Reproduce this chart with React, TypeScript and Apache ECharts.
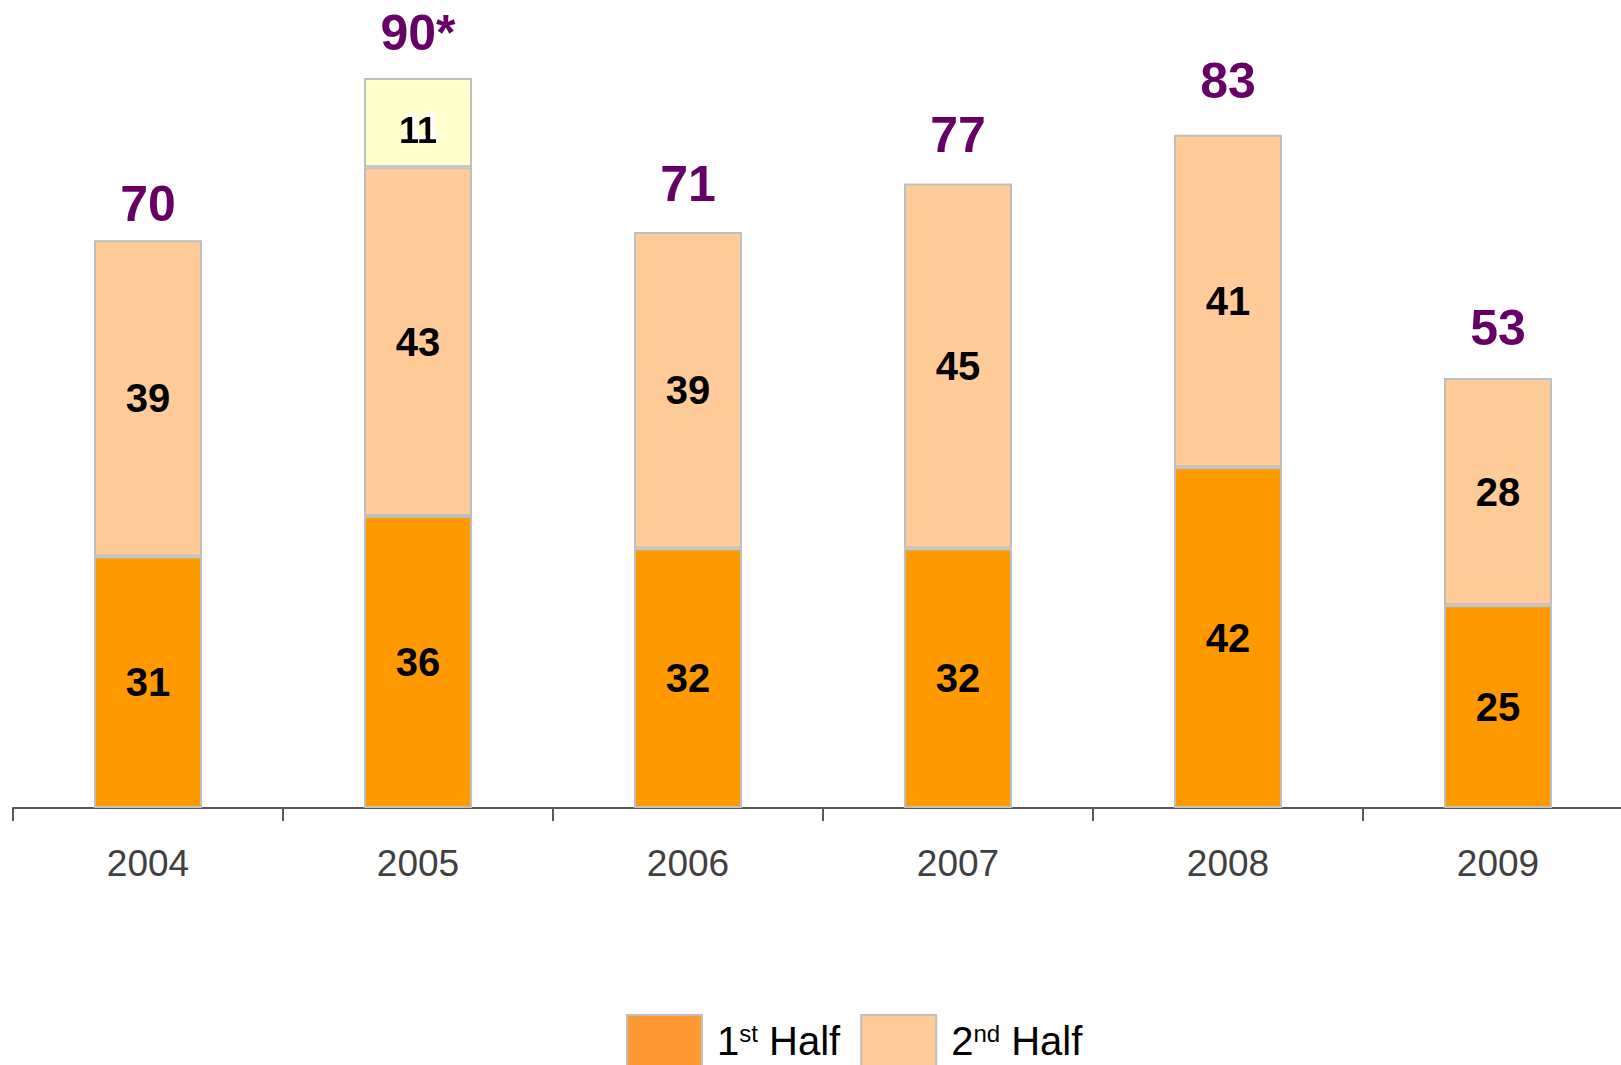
import React, { useEffect, useRef } from "react";
import * as echarts from "echarts";

const years = ["2004", "2005", "2006", "2007", "2008", "2009"];
const firstHalf = [31, 36, 32, 32, 42, 25];
const secondHalf = [39, 43, 39, 45, 41, 28];
const extra2005 = [null, 11, null, null, null, null];
const totals = [70, 90, 71, 77, 83, 53];
const totalLabels = ["70", "90*", "71", "77", "83", "53"];
// label spacing above each bar (style)
const totalLabelGap = [11, 20, 23, 23, 29, 25];

export default function App() {
  const ref = useRef<HTMLDivElement>(null);
  useEffect(() => {
    if (!ref.current) return;
    const chart = echarts.init(ref.current, undefined, { renderer: "svg" });
    const font = "Liberation Sans, Arial, sans-serif";
    const segLabel = {
      show: true,
      position: "inside",
      color: "#000",
      fontWeight: "bold",
      fontSize: 40,
      fontFamily: font,
    };
    const border = { borderColor: "#BFBFBF", borderWidth: 2 };
    chart.setOption({
      animation: false,
      grid: { left: 13, width: 1620, top: 78, bottom: 257, containLabel: false },
      xAxis: {
        type: "category",
        data: years,
        boundaryGap: true,
        axisLine: { show: true, lineStyle: { color: "#595959", width: 2 } },
        axisTick: { show: true, length: 13, lineStyle: { color: "#595959", width: 2 } },
        axisLabel: { color: "#404040", fontSize: 37, fontFamily: font, margin: 37 },
      },
      yAxis: { type: "value", min: 0, max: 90, show: false, splitLine: { show: false } },
      legend: {
        left: 626,
        top: 1014,
        padding: 0,
        itemWidth: 75,
        itemHeight: 52,
        itemGap: 20,
        icon: "rect",
        data: [
          { name: "1st Half", itemStyle: { color: "#FF9933", borderColor: "#BFBFBF", borderWidth: 2 } },
          { name: "2nd Half", itemStyle: { color: "#FFCC99", borderColor: "#BFBFBF", borderWidth: 2 } },
        ],
        formatter: (name: string) =>
          name === "1st Half" ? "{n|1}{s|st}{n| Half}" : "{n|2}{s|nd}{n| Half}",
        textStyle: {
          padding: [0, 0, 0, 10],
          rich: {
            n: { fontSize: 40, fontFamily: font, color: "#000", lineHeight: 40 },
            s: { fontSize: 24, fontFamily: font, color: "#000", verticalAlign: "top", lineHeight: 40, padding: [0, 0, 14, 0] },
          },
        },
      },
      series: [
        {
          name: "1st Half",
          type: "bar",
          stack: "a",
          barWidth: 108,
          data: firstHalf,
          itemStyle: { color: "#FF9900", ...border },
          label: segLabel,
        },
        {
          name: "2nd Half",
          type: "bar",
          stack: "a",
          data: secondHalf,
          itemStyle: { color: "#FFCC99", ...border },
          label: segLabel,
        },
        {
          name: "Extra",
          type: "bar",
          stack: "a",
          data: extra2005,
          itemStyle: { color: "#FFFFCC", ...border },
          label: {
            ...segLabel,
            fontSize: 36,
            offset: [0, 8],
            textShadowColor: "#FFFFFF",
            textShadowOffsetX: 5,
            textShadowOffsetY: -4,
            textShadowBlur: 1,
          },
        },
        {
          name: "Total",
          type: "scatter",
          symbolSize: 0,
          silent: true,
          itemStyle: { opacity: 1, color: "#660066" },
          data: totals.map((v, i) => ({ value: v, label: { distance: totalLabelGap[i] } })),
          label: {
            show: true,
            position: "top",
            color: "#660066",
            fontWeight: "bold",
            fontSize: 50,
            fontFamily: font,
            formatter: (p: any) => totalLabels[p.dataIndex],
          },
        },
      ],
    });
    return () => chart.dispose();
  }, []);
  return (
    <div style={{ position: "fixed", left: 0, top: 0, width: 1621, height: 1065, overflow: "hidden", background: "#fff" }}>
      <div ref={ref} style={{ position: "absolute", left: 0, top: 0, width: 1660, height: 1065 }} />
    </div>
  );
}
